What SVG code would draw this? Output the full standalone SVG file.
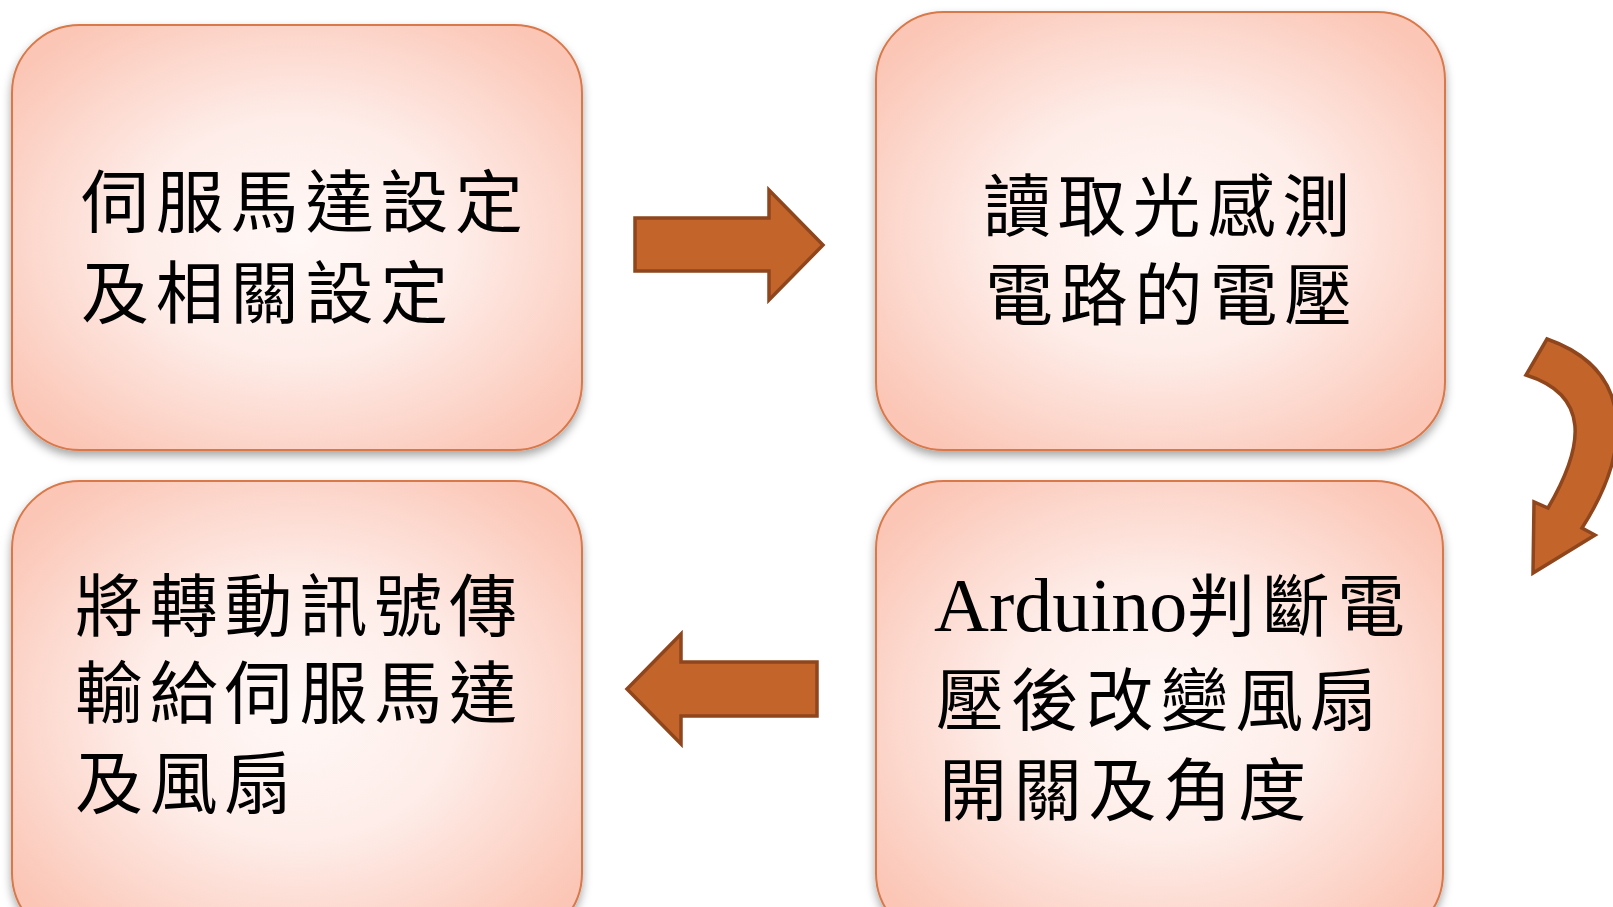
<svg xmlns="http://www.w3.org/2000/svg" width="1613" height="907" viewBox="0 0 1613 907">
<defs>
<radialGradient id="boxFill" cx="50%" cy="50%" r="62%">
<stop offset="0" stop-color="#FFF8F6"/>
<stop offset="0.45" stop-color="#FEEDE9"/>
<stop offset="1" stop-color="#FBC6B6"/>
</radialGradient>
<filter id="shadow" x="-10%" y="-10%" width="120%" height="125%">
<feDropShadow dx="0" dy="5" stdDeviation="5" flood-color="#000" flood-opacity="0.35"/>
</filter>
</defs>
<style>
.box{fill:url(#boxFill);stroke:#D9784A;stroke-width:2;filter:url(#shadow)}
.lbl{font-family:"Liberation Serif","Noto Sans CJK TC",serif;font-size:68px;letter-spacing:6.8px;fill:#000}
.lat{font-size:76px;letter-spacing:0}
.arrow{fill:#C3652B;stroke:#8F461D;stroke-width:3.5;stroke-linejoin:miter}
</style>
<rect width="1613" height="907" fill="#FFFFFF"/>
<g id="node-servo-setup">
<rect class="box" x="12" y="25" width="570" height="425" rx="68" ry="68"/>
<text class="lbl" x="81" y="227">伺服馬達設定</text>
<text class="lbl" x="81" y="318">及相關設定</text>
</g>
<g id="node-read-voltage">
<rect class="box" x="876" y="12" width="569" height="438" rx="68" ry="68"/>
<text class="lbl" x="983" y="231">讀取光感測</text>
<text class="lbl" x="985" y="320">電路的電壓</text>
</g>
<g id="node-send-signal">
<rect class="box" x="12" y="481" width="570" height="460" rx="68" ry="68"/>
<text class="lbl" x="75" y="631">將轉動訊號傳</text>
<text class="lbl" x="75" y="718">輸給伺服馬達</text>
<text class="lbl" x="75" y="808">及風扇</text>
</g>
<g id="node-arduino">
<rect class="box" x="876" y="481" width="567" height="460" rx="68" ry="68"/>
<text class="lbl" x="934" y="631"><tspan class="lat">Arduino</tspan>判斷電</text>
<text class="lbl" x="936" y="725">壓後改變風扇</text>
<text class="lbl" x="939" y="815">開關及角度</text>
</g>
<g id="connectors">
<path class="arrow" d="M635 218 L769 218 L769 190 L823 245 L769 300 L769 271 L635 271 Z"/>
<path class="arrow" d="M1547 339 L1526 375 C1590 395 1585 445 1548 508 L1534 502 L1533 573 L1595 535 L1582 528 C1632 450 1635 370 1547 339 Z"/>
<path class="arrow" d="M817 662 L681 662 L681 634 L627 689 L681 744 L681 716 L817 716 Z"/>
</g>
</svg>
